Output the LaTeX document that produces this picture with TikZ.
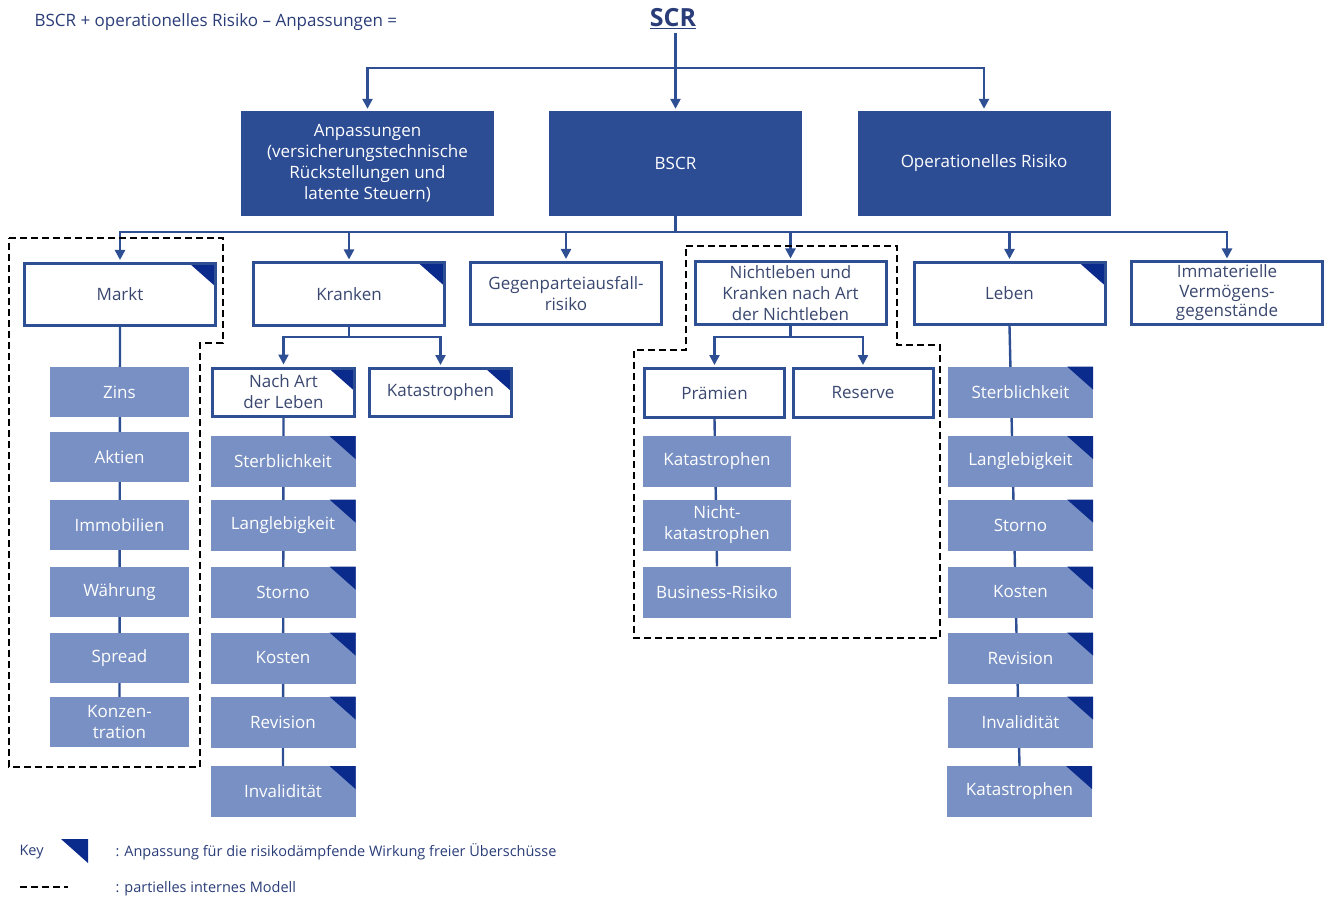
\documentclass[tikz,border=0pt]{standalone}
\usepackage{fontspec}
\setmainfont{Open Sans}
\usepackage{tikz}
\usetikzlibrary{arrows.meta,backgrounds}
\definecolor{boxblue}{HTML}{2C4C94}
\definecolor{lineblue}{HTML}{2F4F94}
\definecolor{subblue}{HTML}{7890C3}
\definecolor{cornerblue}{HTML}{0A2A8C}
\definecolor{labelgrey}{HTML}{3A4870}
\definecolor{headnavy}{HTML}{2A3D78}

\begin{document}
\begin{tikzpicture}[x=1pt,y=-1pt,font=\fontsize{17}{21}\selectfont]
        \tikzset{
            corner/.style={
                path picture={\fill[cornerblue] (path picture bounding box.north east) -- ++(-26pt,0pt) -- ++(26pt,-23pt) -- cycle;}
            },
            topbox/.style={fill=boxblue, text=white, minimum width=253pt, minimum height=105pt, align=center, inner sep=0pt},
            riskbox/.style={draw=lineblue, line width=3pt, fill=white, text=labelgrey, minimum width=191pt, minimum height=62pt, align=center, inner sep=0pt},
            childbox/.style={riskbox, minimum width=142pt, minimum height=48pt},
            subbox/.style={fill=subblue, text=white, minimum width=145pt, minimum height=51pt, align=center, inner sep=0pt},
            conn/.style={draw=lineblue, line width=2.4pt},
            arr/.style={conn, shorten >=2pt, -{Triangle[width=10pt,length=10pt]}},
            partial/.style={draw=black, line width=2.6pt, dash pattern=on 7pt off 4pt},
            keytext/.style={text=headnavy, anchor=west, font=\fontsize{14.5}{17}\selectfont}
        }
        \useasboundingbox (0,0) rectangle (1327,901);
        % header
        \node[text=headnavy, anchor=west] (formel) at (31,22) {BSCR + operationelles Risiko -- Anpassungen =};
        \node[text=headnavy, font=\bfseries\fontsize{25}{28}\selectfont] (scr) at (673,19) {\underline{SCR}};
        % first level
        \node[topbox] (anp) at (367.5,163.5) {Anpassungen\\(versicherungstechnische\\Rückstellungen und\\latente Steuern)};
        \node[topbox] (bscr) at (675.5,163.5) {BSCR};
        \node[topbox] (oprisk) at (984,163.5) {Operationelles Risiko};
        \coordinate (bar1) at (675.5,68);
        \draw[conn] (scr.south -| bar1) -- (bar1);
        \draw[arr] (bar1) -| (anp.north);
        \draw[arr] (bar1) -- (bscr.north);
        \draw[arr] (bar1) -| (oprisk.north);
        % modules
        \node[riskbox, corner] (markt) at (120,294.5) {Markt};
        \node[riskbox, corner] (kranken) at (349,294) {Kranken};
        \node[riskbox] (gegen) at (566,293.5) {Gegenparteiausfall-\\risiko};
        \node[riskbox] (nicht) at (790.5,293) {Nichtleben und\\Kranken nach Art\\der Nichtleben};
        \node[riskbox, corner] (leben) at (1009.5,293.5) {Leben};
        \node[riskbox, font=\fontsize{17}{19.5}\selectfont] (immat) at (1227,293) {Immaterielle\\Vermögens-\\gegenstände};
        \coordinate (bar2) at (675.5,232);
        \draw[conn] (bscr.south) -- (bar2);
        \draw[arr] (bar2) -| (markt.north);
        \draw[arr] (bar2) -| (kranken.north);
        \draw[arr] (bar2) -| (gegen.north);
        \draw[arr] (bar2) -| (nicht.north);
        \draw[arr] (bar2) -| (leben.north);
        \draw[arr] (bar2) -| (immat.north);
        % Markt
        \node[subbox, minimum width=139pt, minimum height=50pt] (mzins) at (119.5,392) {Zins};
        \node[subbox, minimum width=139pt, minimum height=50pt] (maktien) at (119.5,457) {Aktien};
        \node[subbox, minimum width=139pt, minimum height=50pt] (mimmo) at (119.5,525) {Immobilien};
        \node[subbox, minimum width=139pt, minimum height=50pt] (mwaehr) at (119.5,592) {Währung};
        \node[subbox, minimum width=139pt, minimum height=50pt] (mspread) at (119.5,658) {Spread};
        \node[subbox, minimum width=139pt, minimum height=50pt] (mkonz) at (119.5,722) {Konzen-\\tration};
        % Kranken
        \node[childbox, corner] (nachart) at (283.5,392) {Nach Art\\der Leben};
        \node[childbox, corner] (kkat) at (440.5,392.5) {Katastrophen};
        \coordinate (kbar) at (349,337);
        \draw[conn] (kranken.south) -- (kbar);
        \draw[arr] (kbar) -| (nachart.north);
        \draw[arr] (kbar) -| (kkat.north);
        \node[subbox, corner] (ksterb) at (283,461.5) {Sterblichkeit};
        \node[subbox, corner] (klang) at (283,525) {Langlebigkeit};
        \node[subbox, corner] (kstorno) at (283,592) {Storno};
        \node[subbox, corner] (kkosten) at (283,658) {Kosten};
        \node[subbox, corner] (krev) at (283,722) {Revision};
        \node[subbox, corner] (kinval) at (283,791.5) {Invalidität};
        % Nichtleben
        \node[childbox, minimum width=140pt, minimum height=49pt] (praem) at (714.5,393) {Prämien};
        \node[childbox, minimum width=140pt, minimum height=49pt] (reserve) at (863,393) {Reserve};
        \coordinate (nbar) at (790.5,337);
        \draw[conn] (nicht.south) -- (nbar);
        \draw[arr] (nbar) -| (praem.north);
        \draw[arr] (nbar) -| (reserve.north);
        \node[subbox, minimum width=148pt] (nkat) at (717,461.5) {Katastrophen};
        \node[subbox, minimum width=148pt] (nnicht) at (717,525) {Nicht-\\katastrophen};
        \node[subbox, minimum width=148pt] (nbus) at (717,592) {Business-Risiko};
        % Leben
        \node[subbox, corner] (lsterb) at (1020.5,392) {Sterblichkeit};
        \node[subbox, corner] (llang) at (1020.5,461.5) {Langlebigkeit};
        \node[subbox, corner] (lstorno) at (1020.5,525) {Storno};
        \node[subbox, corner] (lkosten) at (1020.5,592) {Kosten};
        \node[subbox, corner] (lrev) at (1020.5,658) {Revision};
        \node[subbox, corner] (linval) at (1020.5,722) {Invalidität};
        \node[subbox, corner] (lkat) at (1019.5,791.5) {Katastrophen};
        \begin{scope}[on background layer]
            \draw[conn] (markt.south) -- (mkonz.north);
            \draw[conn] (nachart.south) -- (kinval.north);
            \draw[conn] (praem.south) -- (nbus.north);
            \draw[conn] (leben.south) -- (lkat.north);
        \end{scope}
        % partial internal model
        \draw[partial] (9,238) -- (223,238) -- (223,343) -- (200,343) -- (200,767) -- (9,767) -- cycle;
        \draw[partial] (686,246) -- (897,246) -- (897,345) -- (940,345) -- (940,638) -- (634,638) -- (634,350) -- (686,350) -- cycle;
        % key
        \node[keytext] (key) at (16,852) {Key};
        \fill[cornerblue] (61,839) -- (88,839) -- (88,863) -- cycle;
        \node[keytext] (keyadj) at (112,852) {: Anpassung für die risikodämpfende Wirkung freier Überschüsse};
        \draw[partial] (20,887) -- (68,887);
        \node[keytext] (keypim) at (112,889) {: partielles internes Modell};
    \end{tikzpicture}
\end{document}
